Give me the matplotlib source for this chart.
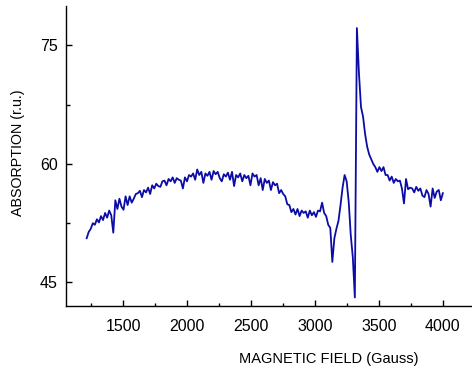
import numpy as np
import matplotlib
matplotlib.use("Agg")
import matplotlib.pyplot as plt
from matplotlib.ticker import MultipleLocator

plt.rcParams["font.family"] = ["Liberation Sans", "DejaVu Sans"]

# field sweep, 16 G per sample
field = np.arange(1216, 4001, 16)

# absorption signal (r.u.), one value per sample
absorption = [
    50.6, 51.4, 51.8, 52.5, 52.3, 53.0, 52.6, 53.4, 52.9, 53.8,
    53.2, 54.1, 53.5, 51.3, 55.4, 54.3, 55.6, 54.6, 54.2, 55.9,
    54.8, 55.9, 55.1, 55.6, 56.2, 56.3, 56.6, 55.8, 56.7, 56.4,
    57.0, 56.2, 57.3, 56.9, 57.5, 57.2, 57.1, 57.8, 57.9, 57.3,
    58.1, 57.8, 58.3, 57.6, 58.2, 58.0, 57.9, 56.9, 58.3, 57.8,
    58.6, 58.4, 58.8, 58.0, 59.3, 58.6, 59.0, 57.6, 58.8, 58.5,
    59.0, 58.0, 59.1, 58.7, 59.0, 58.2, 57.8, 58.7, 58.4, 58.9,
    58.0, 59.0, 57.2, 58.6, 58.3, 58.8, 57.8, 58.6, 58.2, 58.5,
    57.3, 58.8, 58.4, 58.6, 57.3, 58.2, 56.7, 58.1, 57.6, 57.9,
    56.7, 57.7, 57.3, 57.5, 56.3, 56.7, 56.2, 55.9, 54.9, 54.8,
    53.9, 54.3, 53.6, 54.3, 53.4, 54.1, 53.8, 54.0, 53.2, 54.1,
    53.5, 53.9, 53.3, 54.1, 54.0, 55.1, 53.8, 53.4, 52.3, 51.9,
    47.6, 50.6, 51.8, 52.8, 54.8, 57.0, 58.6, 57.8, 55.2, 51.0,
    48.2, 43.1, 77.2, 71.5, 67.2, 66.0, 63.8, 62.2, 61.2, 60.6,
    60.0, 59.6, 59.0, 59.6, 59.1, 59.6, 58.6, 58.6, 57.9, 58.4,
    57.6, 58.1, 57.8, 57.9, 56.9, 55.0, 58.1, 56.8, 57.0, 56.9,
    56.4, 57.1, 56.6, 56.9, 56.0, 55.8, 56.7, 56.2, 54.6, 56.9,
    55.7, 56.5, 56.7, 55.4, 56.3,
]

fig = plt.figure(figsize=(4.72, 3.72), dpi=100)
ax = fig.add_axes([0.140, 0.177, 0.862, 0.807])

ax.plot(field, absorption, color="#0c0ca6", lw=1.3)

ax.set_xlim(1055, 4235)
ax.set_ylim(42, 80)
ax.xaxis.set_major_locator(MultipleLocator(500))
ax.xaxis.set_minor_locator(MultipleLocator(250))
ax.set_xticks([1500, 2000, 2500, 3000, 3500, 4000])
ax.yaxis.set_major_locator(MultipleLocator(15))
ax.yaxis.set_minor_locator(MultipleLocator(7.5))

for side in ("top", "right"):
    ax.spines[side].set_visible(False)
for side in ("left", "bottom"):
    ax.spines[side].set_linewidth(1.0)

ax.tick_params(which="both", direction="in", width=1.0, labelsize=11.5)
ax.tick_params(axis="y", which="major", length=4.5, pad=6)
ax.tick_params(axis="y", which="minor", length=3)
ax.tick_params(axis="x", which="major", length=4.5, pad=9)
ax.tick_params(axis="x", which="minor", length=2.5)

ax.set_xlabel("MAGNETIC FIELD (Gauss)", fontsize=10.5)
ax.xaxis.set_label_coords(0.646, -0.153)
ax.set_ylabel("ABSORPTION (r.u.)", fontsize=10.3)
ax.yaxis.set_label_coords(-0.101, 0.51)

fig.savefig("out.png", dpi=100)
